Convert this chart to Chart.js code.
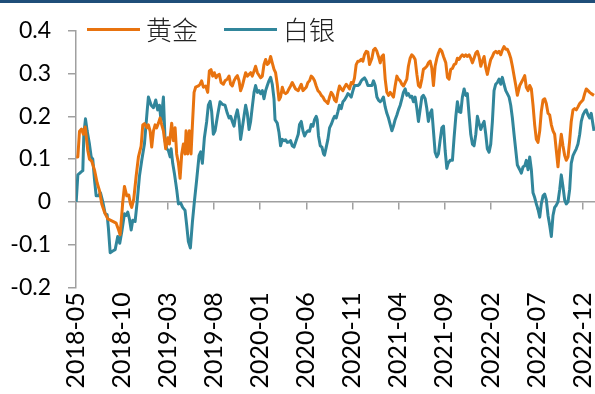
<!DOCTYPE html>
<html>
  <head>
    <meta charset="utf-8" />
    <title>黄金 白银</title>
    <script src="https://cdn.jsdelivr.net/npm/chart.js"></script>
    <style>
      body {
        margin: 0;
        background: #fff;
      }

      .wrap {
        position: relative;
        width: 595px;
        height: 394px;
      }

      .topbar {
        position: absolute;
        left: 0;
        top: 0;
        width: 595px;
        height: 3px;
        background: #1f4e79;
      }

      .legend {
        position: absolute;
        top: 14px;
        left: 87px;
        display: flex;
        align-items: center;
        font-family: "Noto Sans CJK SC", sans-serif;
        font-size: 26px;
        font-weight: 300;
        line-height: 30px;
        color: #222;
      }

      .legend .item {
        display: flex;
        align-items: center;
        margin-right: 26px;
      }

      .legend .line {
        width: 53px;
        height: 3px;
        margin-right: 6px;
      }
    </style>
  </head>
  <body>
    <div class="wrap">
      <canvas id="myChart" width="595" height="394"></canvas>
      <div class="topbar"></div>
      <div class="legend">
        <div class="item"><span class="line" style="background: #e8730f"></span>黄金</div>
        <div class="item"><span class="line" style="background: #31869b"></span>白银</div>
      </div>
    </div>

    <script>
      // months counted from 2018-05
      const tickLabels = [
        "2018-05", "2018-10", "2019-03", "2019-08", "2020-01", "2020-06",
        "2020-11", "2021-04", "2021-09", "2022-02", "2022-07", "2022-12",
      ];

      const goldMonth = [
        0.02, 0.2, 0.38, 0.6, 0.8, 1.0, 1.28, 1.46, 1.71, 2.01, 2.3, 2.55, 2.8, 3.09, 3.45, 4.1, 4.36, 4.61, 4.79,
        5.08, 5.26, 5.51, 5.73, 5.91, 6.05, 6.27, 6.53, 6.78, 7.07, 7.25, 7.43, 7.72, 7.86, 8.05, 8.22, 8.41, 8.59,
        8.76, 8.95, 9.13, 9.31, 9.49, 9.74, 9.96, 10.14, 10.39, 10.57, 10.76, 10.93, 11.12, 11.3, 11.48, 11.66,
        11.84, 11.95, 12.13, 12.31, 12.49, 12.64, 12.82, 12.99, 13.29, 13.47, 13.64, 13.83, 14.08, 14.3, 14.48,
        14.66, 14.84, 15.02, 15.21, 15.38, 15.56, 15.75, 16.0, 16.18, 16.43, 16.62, 16.79, 16.97, 17.16, 17.33,
        17.52, 17.7, 17.87, 18.06, 18.24, 18.42, 18.6, 18.96, 19.14, 19.33, 19.5, 19.69, 20.04, 20.23, 20.41,
        20.59, 20.77, 20.95, 21.13, 21.31, 21.5, 21.67, 21.85, 22.04, 22.21, 22.4, 22.58, 22.76, 22.94, 23.12,
        23.3, 23.48, 23.67, 23.84, 24.13, 24.46, 24.64, 25.0, 25.18, 25.36, 25.54, 25.73, 25.9, 26.08, 26.27,
        26.44, 26.63, 26.81, 26.98, 27.17, 27.35, 27.53, 27.71, 27.9, 28.07, 28.25, 28.44, 28.61, 28.8, 28.98,
        29.15, 29.34, 29.52, 29.7, 29.88, 30.07, 30.24, 30.42, 30.61, 30.78, 30.97, 31.15, 31.32, 31.51, 31.69,
        31.87, 32.13, 32.3, 32.48, 32.67, 32.84, 33.03, 33.21, 33.38, 33.57, 33.75, 33.93, 34.11, 34.3, 34.47,
        34.65, 34.84, 35.01, 35.2, 35.38, 35.55, 35.74, 35.92, 36.09, 36.28, 36.46, 36.64, 36.82, 37.01, 37.18,
        37.36, 37.55, 37.72, 37.91, 38.09, 38.26, 38.45, 38.63, 38.81, 38.99, 39.18, 39.35, 39.53, 39.72, 39.9,
        40.15, 40.33, 40.51, 40.69, 40.87, 41.05, 41.24, 41.41, 41.59, 41.78, 41.95, 42.14, 42.32, 42.49, 42.68,
        42.86, 43.04, 43.22, 43.41, 43.58, 43.76, 43.95, 44.12, 44.31, 44.49, 44.66, 44.85, 45.03, 45.21, 45.39,
        45.57, 45.75, 45.93, 46.12, 46.29, 46.47, 46.66, 46.83, 47.02, 47.2, 47.38, 47.56, 47.75, 47.92, 48.18,
        48.35, 48.54, 48.72, 48.89, 49.08, 49.26, 49.44, 49.62, 49.8, 49.98, 50.16, 50.35, 50.52, 50.71, 50.89,
        51.06, 51.25, 51.43, 51.61, 51.79, 51.97, 52.15, 52.33, 52.52, 52.69, 52.87, 53.06, 53.23, 53.42, 53.6,
        53.77, 53.96, 54.14, 54.32, 54.5, 54.69, 54.86, 55.04, 55.23, 55.4, 55.59, 55.77, 55.94, 56.24,
      ];
      const goldValue = [
        0.105, 0.105, 0.165, 0.17, 0.158, 0.175, 0.12, 0.1, 0.095, 0.074, 0.044, 0.026, -0.005, -0.024, -0.04,
        -0.047, -0.05, -0.065, -0.077, 0, 0.036, 0.014, 0.016, -0.005, -0.013, 0.006, 0.06, 0.105, 0.13, 0.18,
        0.183, 0.173, 0.18, 0.165, 0.128, 0.166, 0.18, 0.173, 0.184, 0.196, 0.18, 0.166, 0.124, 0.15, 0.135,
        0.184, 0.143, 0.173, 0.112, 0.09, 0.055, 0.112, 0.135, 0.112, 0.166, 0.112, 0.166, 0.112, 0.18, 0.256,
        0.268, 0.271, 0.275, 0.283, 0.268, 0.271, 0.256, 0.306, 0.309, 0.294, 0.302, 0.29, 0.296, 0.298, 0.279,
        0.275, 0.283, 0.287, 0.294, 0.275, 0.271, 0.283, 0.29, 0.295, 0.283, 0.26, 0.271, 0.287, 0.302, 0.294,
        0.302, 0.294, 0.306, 0.317, 0.302, 0.29, 0.294, 0.321, 0.333, 0.321, 0.325, 0.34, 0.325, 0.31, 0.302,
        0.275, 0.238, 0.245, 0.268, 0.256, 0.253, 0.256, 0.264, 0.271, 0.279, 0.271, 0.264, 0.26, 0.275, 0.26,
        0.268, 0.279, 0.283, 0.294, 0.29, 0.283, 0.271, 0.26, 0.256, 0.249, 0.245, 0.238, 0.234, 0.23, 0.245,
        0.256, 0.25, 0.238, 0.234, 0.256, 0.271, 0.264, 0.26, 0.268, 0.275, 0.27, 0.264, 0.279, 0.276, 0.29,
        0.321, 0.329, 0.329, 0.333, 0.329, 0.344, 0.352, 0.35, 0.321, 0.336, 0.355, 0.359, 0.352, 0.34, 0.325,
        0.34, 0.344, 0.287, 0.256, 0.249, 0.256, 0.25, 0.245, 0.271, 0.294, 0.287, 0.283, 0.275, 0.271, 0.279,
        0.287, 0.317, 0.336, 0.344, 0.34, 0.333, 0.298, 0.272, 0.268, 0.287, 0.31, 0.313, 0.317, 0.325, 0.329,
        0.313, 0.272, 0.317, 0.336, 0.348, 0.357, 0.352, 0.34, 0.325, 0.291, 0.287, 0.31, 0.312, 0.321, 0.323,
        0.336, 0.333, 0.34, 0.344, 0.34, 0.344, 0.34, 0.344, 0.336, 0.325, 0.336, 0.348, 0.352, 0.34, 0.317,
        0.329, 0.34, 0.313, 0.298, 0.317, 0.333, 0.34, 0.349, 0.352, 0.348, 0.352, 0.344, 0.355, 0.363, 0.357,
        0.357, 0.348, 0.336, 0.317, 0.295, 0.272, 0.249, 0.272, 0.279, 0.287, 0.295, 0.268, 0.26, 0.272, 0.264,
        0.226, 0.18, 0.146, 0.139, 0.166, 0.211, 0.238, 0.241, 0.23, 0.207, 0.203, 0.18, 0.166, 0.158, 0.12,
        0.082, 0.128, 0.158, 0.131, 0.108, 0.097, 0.105, 0.143, 0.188, 0.215, 0.218, 0.215, 0.222, 0.23, 0.234,
        0.238, 0.253, 0.264, 0.26, 0.256, 0.253, 0.249,
      ];

      const silverMonth = [
        0.02, 0.2, 0.56, 0.74, 0.85, 1.03, 1.21, 1.46, 1.65, 1.82, 2.01, 2.19, 2.44, 2.66, 2.91, 3.17, 3.38, 3.52,
        3.71, 3.99, 4.25, 4.53, 4.75, 4.97, 5.26, 5.44, 5.62, 5.8, 5.99, 6.16, 6.42, 6.64, 6.89, 7.14, 7.43, 7.72,
        7.86, 8.16, 8.41, 8.66, 8.87, 9.06, 9.24, 9.49, 9.67, 9.85, 10.03, 10.22, 10.33, 10.5, 10.68, 10.93,
        11.12, 11.37, 11.58, 11.84, 12.02, 12.2, 12.42, 12.64, 12.85, 13.1, 13.36, 13.54, 13.72, 13.94, 14.19,
        14.37, 14.56, 14.73, 14.91, 15.1, 15.38, 15.64, 15.89, 16.18, 16.43, 16.62, 16.79, 16.97, 17.16, 17.33,
        17.52, 17.7, 17.87, 18.06, 18.24, 18.42, 18.6, 18.79, 18.96, 19.14, 19.33, 19.5, 19.69, 19.87, 20.04,
        20.23, 20.41, 20.59, 20.77, 20.95, 21.13, 21.31, 21.5, 21.61, 21.85, 22.04, 22.21, 22.4, 22.58, 22.76,
        22.94, 23.12, 23.3, 23.48, 23.67, 23.84, 24.13, 24.27, 24.46, 24.64, 24.82, 25.0, 25.18, 25.36, 25.54,
        25.73, 25.9, 26.08, 26.19, 26.33, 26.52, 26.7, 26.88, 26.98, 27.17, 27.35, 27.53, 27.71, 27.9, 28.07,
        28.25, 28.44, 28.61, 28.8, 28.98, 29.15, 29.34, 29.52, 29.7, 29.88, 30.07, 30.24, 30.61, 30.78, 30.97,
        31.15, 31.32, 31.51, 31.69, 31.87, 32.13, 32.3, 32.48, 32.67, 32.84, 33.03, 33.21, 33.38, 33.57, 33.75,
        33.93, 34.11, 34.3, 34.47, 34.65, 34.84, 35.01, 35.2, 35.38, 35.55, 35.74, 35.92, 36.09, 36.28, 36.46,
        36.64, 36.82, 37.01, 37.18, 37.36, 37.55, 37.72, 37.91, 38.09, 38.26, 38.45, 38.63, 38.81, 38.99, 39.18,
        39.35, 39.53, 39.72, 39.9, 40.08, 40.26, 40.4, 40.62, 40.87, 41.05, 41.24, 41.41, 41.59, 41.78, 41.95,
        42.14, 42.32, 42.49, 42.68, 42.86, 43.04, 43.22, 43.41, 43.58, 43.76, 43.95, 44.12, 44.31, 44.49, 44.66,
        44.85, 45.03, 45.21, 45.39, 45.57, 45.75, 45.93, 46.12, 46.29, 46.47, 46.66, 46.83, 47.02, 47.2, 47.38,
        47.56, 47.75, 47.92, 48.18, 48.35, 48.54, 48.72, 48.89, 49.08, 49.26, 49.44, 49.62, 49.8, 49.98, 50.16,
        50.35, 50.52, 50.71, 50.89, 51.06, 51.25, 51.43, 51.61, 51.79, 51.97, 52.15, 52.33, 52.52, 52.69, 52.87,
        53.06, 53.23, 53.42, 53.6, 53.77, 53.96, 54.14, 54.32, 54.5, 54.69, 54.86, 55.04, 55.23, 55.4, 55.59,
        55.77, 55.94, 56.13, 56.24,
      ];
      const silverValue = [
        0, 0.063, 0.07, 0.073, 0.158, 0.194, 0.166, 0.135, 0.105, 0.1, 0.051, 0.014, 0.014, 0.021, 0, -0.028,
        -0.03, -0.062, -0.119, -0.115, -0.112, -0.081, -0.097, -0.07, -0.028, -0.032, -0.024, -0.04, -0.066,
        -0.043, -0.046, 0, 0.06, 0.097, 0.135, 0.211, 0.245, 0.226, 0.22, 0.238, 0.215, 0.226, 0.188, 0.245,
        0.143, 0.124, 0.12, 0.105, 0.124, 0.09, 0.067, 0.029, -0.005, -0.003, -0.013, -0.02, -0.055, -0.093,
        -0.108, -0.047, 0, 0.051, 0.108, 0.117, 0.09, 0.15, 0.188, 0.226, 0.235, 0.211, 0.158, 0.166, 0.203,
        0.234, 0.228, 0.226, 0.207, 0.196, 0.2, 0.188, 0.177, 0.2, 0.215, 0.192, 0.146, 0.173, 0.2, 0.226, 0.207,
        0.169, 0.188, 0.222, 0.256, 0.272, 0.256, 0.26, 0.253, 0.26, 0.241, 0.26, 0.272, 0.283, 0.291, 0.275,
        0.24, 0.192, 0.184, 0.162, 0.131, 0.146, 0.143, 0.145, 0.139, 0.14, 0.143, 0.131, 0.128, 0.139, 0.158,
        0.181, 0.188, 0.166, 0.154, 0.162, 0.166, 0.165, 0.181, 0.177, 0.192, 0.2, 0.192, 0.154, 0.131, 0.128,
        0.112, 0.109, 0.128, 0.146, 0.173, 0.181, 0.192, 0.2, 0.196, 0.211, 0.226, 0.218, 0.234, 0.238, 0.245,
        0.253, 0.25, 0.245, 0.26, 0.272, 0.272, 0.275, 0.283, 0.287, 0.29, 0.283, 0.272, 0.272, 0.272, 0.283,
        0.272, 0.245, 0.238, 0.234, 0.238, 0.245, 0.222, 0.207, 0.196, 0.181, 0.166, 0.177, 0.192, 0.203, 0.215,
        0.226, 0.241, 0.256, 0.264, 0.249, 0.253, 0.245, 0.247, 0.234, 0.245, 0.218, 0.188, 0.215, 0.245, 0.249,
        0.241, 0.218, 0.188, 0.207, 0.215, 0.166, 0.116, 0.105, 0.112, 0.143, 0.173, 0.177, 0.12, 0.078, 0.09,
        0.097, 0.097, 0.15, 0.2, 0.234, 0.211, 0.209, 0.245, 0.264, 0.249, 0.253, 0.203, 0.158, 0.135, 0.131,
        0.158, 0.2, 0.184, 0.169, 0.18, 0.188, 0.158, 0.124, 0.116, 0.135, 0.188, 0.26, 0.275, 0.279, 0.287,
        0.275, 0.291, 0.275, 0.26, 0.253, 0.245, 0.226, 0.196, 0.158, 0.12, 0.086, 0.075, 0.067, 0.082, 0.084,
        0.097, 0.075, 0.105, 0.075, 0.021, 0.01, -0.005, -0.017, -0.036, -0.005, 0.014, 0.018, 0.005, -0.032,
        -0.055, -0.081, -0.032, -0.013, -0.008, 0, 0.029, 0.063, 0.036, 0.004, -0.005, 0, 0.029, 0.09, 0.108,
        0.116, 0.124, 0.135, 0.158, 0.188, 0.203, 0.211, 0.215, 0.203, 0.196, 0.207, 0.181, 0.166,
      ];

      function toPoints(months, values) {
        return months.map((m, i) => ({ x: m, y: values[i] }));
      }

      const axisGray = "#a0a0a0";
      const lastMonth = 56.35;

      const ctx = document.getElementById("myChart").getContext("2d");
      new Chart(ctx, {
        type: "line",
        data: {
          datasets: [
            {
              label: "黄金",
              data: toPoints(goldMonth, goldValue),
              borderColor: "#e8730f",
              borderWidth: 3,
              pointRadius: 0,
              borderJoinStyle: "round",
            },
            {
              label: "白银",
              data: toPoints(silverMonth, silverValue),
              borderColor: "#31869b",
              borderWidth: 3,
              pointRadius: 0,
              borderJoinStyle: "round",
            },
          ],
        },
        options: {
          responsive: false,
          animation: false,
          layout: { padding: { top: 24, right: 0, bottom: 0, left: 0 } },
          plugins: {
            legend: { display: false },
            tooltip: { enabled: false },
          },
          scales: {
            x: {
              type: "linear",
              position: "bottom",
              min: 0,
              max: lastMonth,
              afterFit: (s) => {
                s.height = 106.7;
                s.paddingLeft = 0;
                s.paddingRight = 0;
              },
              border: { display: false },
              grid: { display: false, drawTicks: false },
              ticks: {
                stepSize: 5,
                includeBounds: false,
                autoSkip: false,
                minRotation: 90,
                maxRotation: 90,
                padding: 5,
                color: "#000",
                font: { family: "Lato", size: 25 },
                callback: (v) => tickLabels[Math.round(v / 5)],
              },
            },
            xZero: {
              type: "linear",
              position: { y: 0 },
              min: 0,
              max: lastMonth,
              border: { color: axisGray, width: 1.5 },
              grid: { drawOnChartArea: false, color: axisGray, lineWidth: 1.5, tickLength: 7 },
              ticks: { display: false, stepSize: 5, includeBounds: false },
            },
            y: {
              min: -0.2,
              max: 0.4,
              afterFit: (s) => {
                s.width = 76;
              },
              border: { color: axisGray, width: 1.5 },
              grid: { drawOnChartArea: false, color: axisGray, lineWidth: 1.5, tickLength: 8 },
              ticks: {
                stepSize: 0.1,
                padding: 17,
                color: "#000",
                font: { family: "Lato", size: 23 },
                callback: (v) => String(Number(v.toFixed(1))),
              },
            },
          },
        },
      });
    </script>
  </body>
</html>
